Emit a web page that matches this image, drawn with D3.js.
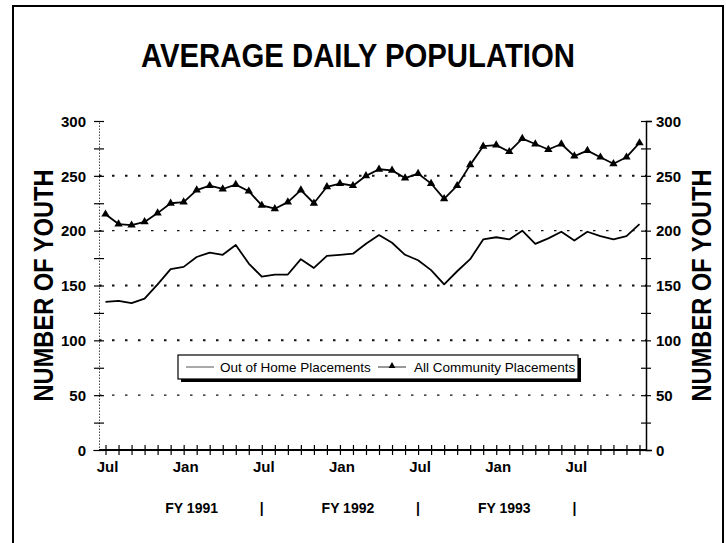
<!DOCTYPE html>
<html>
<head>
<meta charset="utf-8">
<script src="https://cdn.jsdelivr.net/npm/d3@7"></script>
<style>
  body { margin: 0; background: #fff; }
  svg { font-family: "Liberation Sans", Arial, sans-serif; }
</style>
</head>
<body>
<div class="chart"></div>
<script>
// ---- data (monthly, Jul 1990 onward)
const months = d3.range(42);
const outOfHome = [135, 136, 134, 138, 151, 165, 167, 176, 180, 178, 187, 170,
                   158, 160, 160, 174, 166, 177, 178, 179, 188, 196, 189, 178,
                   173, 164, 151, 163, 174, 192, 194, 192, 200, 188, 193, 199,
                   191, 199, 195, 192, 195, 206];
const community = [215, 206, 205, 208, 216, 225, 226, 237, 241, 238, 242, 236,
                   223, 220, 226, 237, 225, 240, 243, 241, 250, 256, 255, 248,
                   252, 243, 229, 241, 260, 277, 278, 272, 284, 279, 274, 279,
                   268, 273, 267, 261, 267, 280];
const monthLabels = ["Jul", "Jan", "Jul", "Jan", "Jul", "Jan", "Jul"];
const monthLabelIdx = [0, 6, 12, 18, 24, 30, 36];
const fyLabels = ["FY 1991", "FY 1992", "FY 1993"];
const fyCenterIdx = [6, 18, 30];
const fySepIdx = [12, 24, 36];
const gridVals = [50, 100, 150, 200, 250];
const seriesNames = ["Out of Home Placements", "All Community Placements"];

// ---- sizes
const W = 726, H = 543;
const plotL = 99, plotR = 646, plotT = 121, plotB = 450;

const svg = d3.select(".chart").append("svg")
    .attr("width", W).attr("height", H);

// outer frame of the page
svg.append("rect")
    .attr("x", 13).attr("y", 6)
    .attr("width", 710).attr("height", 600)
    .attr("fill", "none").attr("stroke", "#000").attr("stroke-width", 2);

// title
svg.append("text")
    .attr("x", 358).attr("y", 67)
    .attr("text-anchor", "middle")
    .attr("font-size", 34).attr("font-weight", "bold")
    .attr("textLength", 434).attr("lengthAdjust", "spacingAndGlyphs")
    .text("AVERAGE DAILY POPULATION");

// ---- scales
const x = d3.scaleLinear().domain([-0.5, 41.5]).range([plotL, plotR]);
const y = d3.scaleLinear().domain([0, 300]).range([plotB, plotT]);

// ---- dotted grid lines
svg.append("g").selectAll("line")
  .data(gridVals)
  .enter().append("line")
    .attr("x1", plotL).attr("x2", plotR)
    .attr("y1", d => y(d)).attr("y2", d => y(d))
    .attr("stroke", "#111")
    .attr("stroke-width", d => (d === 200 || d === 50) ? 1.2 : 2)
    .attr("stroke-dasharray", "2.5,10.5");

// ---- left axis (dotted line, cross ticks)
const yl = svg.append("g")
    .attr("transform", "translate(" + plotL + ",0)")
    .call(d3.axisLeft(y).tickValues(d3.range(0, 301, 25)).tickFormat(d => d % 50 === 0 ? d : ""));
yl.select(".domain").attr("stroke", "#444").attr("stroke-dasharray", "1.5,1.5");
yl.selectAll(".tick line").attr("x1", 5).attr("x2", -5).attr("stroke-width", 1.2);
yl.selectAll(".tick text")
    .attr("x", -13).attr("dy", "0.35em")
    .attr("font-size", 15).attr("font-weight", "bold")
    .attr("font-family", "Liberation Sans, Arial, sans-serif");

// ---- right axis (solid)
const yr = svg.append("g")
    .attr("transform", "translate(" + plotR + ",0)")
    .call(d3.axisRight(y).tickValues(d3.range(0, 301, 25)).tickFormat(d => d % 50 === 0 ? d : ""));
yr.select(".domain").attr("stroke-width", 1.5);
yr.selectAll(".tick line").attr("x1", -5).attr("x2", 5).attr("stroke-width", 1.2);
yr.selectAll(".tick text")
    .attr("x", 10).attr("dy", "0.35em")
    .attr("font-size", 15).attr("font-weight", "bold")
    .attr("font-family", "Liberation Sans, Arial, sans-serif");

// ---- x axis: monthly cross ticks
const xa = svg.append("g")
    .attr("transform", "translate(0," + plotB + ")")
    .call(d3.axisBottom(x).tickValues(months).tickFormat("").tickSizeOuter(0));
xa.select(".domain").attr("stroke-width", 1.8).attr("d", "M" + plotL + ",0H" + plotR);
xa.selectAll(".tick line").attr("y1", -5).attr("y2", 5).attr("stroke-width", 1.2);

svg.append("g").selectAll("text")
  .data(monthLabels)
  .enter().append("text")
    .attr("x", (d, i) => x(monthLabelIdx[i]) + 2)
    .attr("y", plotB + 22)
    .attr("text-anchor", "middle")
    .attr("font-size", 15).attr("font-weight", "bold")
    .text(d => d);

// fiscal year labels + separators
svg.append("g").selectAll("text")
  .data(fyLabels)
  .enter().append("text")
    .attr("x", (d, i) => x(fyCenterIdx[i]) + 8)
    .attr("y", 513)
    .attr("text-anchor", "middle")
    .attr("font-size", 14).attr("font-weight", "bold")
    .text(d => d);
svg.append("g").selectAll("text")
  .data(fySepIdx)
  .enter().append("text")
    .attr("x", d => x(d))
    .attr("y", 513)
    .attr("text-anchor", "middle")
    .attr("font-size", 14).attr("font-weight", "bold")
    .text("|");

// axis titles
[44, 702].forEach(function(cx) {
  svg.append("text")
      .attr("transform", "translate(" + cx + "," + ((plotT + plotB) / 2) + ")rotate(-90)")
      .attr("text-anchor", "middle").attr("dy", "0.35em")
      .attr("font-size", 27).attr("font-weight", "bold")
      .attr("textLength", 232).attr("lengthAdjust", "spacingAndGlyphs")
      .text("NUMBER OF YOUTH");
});

// ---- lines
const line = d3.line()
    .x((d, i) => x(months[i]))
    .y(d => y(d));

svg.append("path")
    .datum(outOfHome)
    .attr("fill", "none").attr("stroke", "#000").attr("stroke-width", 1.8)
    .attr("stroke-linejoin", "round")
    .attr("d", line);

svg.append("path")
    .datum(community)
    .attr("fill", "none").attr("stroke", "#000").attr("stroke-width", 1.8)
    .attr("stroke-linejoin", "round")
    .attr("d", line);

const tri = d3.symbol().type(d3.symbolTriangle).size(30);
svg.append("g").selectAll("path")
  .data(community)
  .enter().append("path")
    .attr("transform", (d, i) => "translate(" + x(months[i]) + "," + y(d) + ")")
    .attr("d", tri)
    .attr("fill", "#000");

// ---- legend box with shadow
const lg = svg.append("g").attr("transform", "translate(178,355)");
lg.append("rect").attr("x", 3).attr("y", 3).attr("width", 400).attr("height", 24).attr("fill", "#000");
lg.append("rect").attr("x", 0).attr("y", 0).attr("width", 400).attr("height", 24)
    .attr("fill", "#fff").attr("stroke", "#000").attr("stroke-width", 1.2);

lg.append("line").attr("x1", 8).attr("x2", 36).attr("y1", 12).attr("y2", 12)
    .attr("stroke", "#555").attr("stroke-width", 1);
lg.append("text").attr("x", 42).attr("y", 17)
    .attr("font-size", 13.5).text(seriesNames[0]);

lg.append("line").attr("x1", 200).attr("x2", 228).attr("y1", 12).attr("y2", 12)
    .attr("stroke", "#333").attr("stroke-width", 1);
lg.append("path").attr("transform", "translate(214,11)")
    .attr("d", d3.symbol().type(d3.symbolTriangle).size(20)).attr("fill", "#000");
lg.append("text").attr("x", 236).attr("y", 17)
    .attr("font-size", 13.5).text(seriesNames[1]);
</script>
</body>
</html>
